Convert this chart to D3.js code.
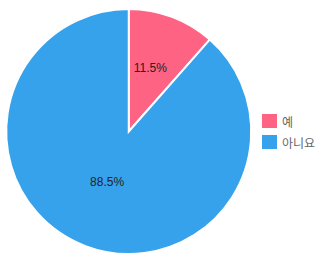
<!DOCTYPE html>
<html>
<head>
<meta charset="utf-8">
<script src="https://cdn.jsdelivr.net/npm/d3@7"></script>
<style>
  body { margin: 0; background: #fff; }
  svg { display: block; }
</style>
</head>
<body>
<div id="chart"></div>
<script>
var labels = ["예", "아니요"];
var values = [11.5, 88.5];
var colors = ["#ff6384", "#36a2eb"];

var width = 334, height = 261;
var cx = 128.75, cy = 131.5, radius = 122.5;

var svg = d3.select("#chart").append("svg")
    .attr("width", width)
    .attr("height", height);

var g = svg.append("g")
    .attr("transform", "translate(" + cx + "," + cy + ")");

var pie = d3.pie().sort(null).value(function(d) { return d; });
var arc = d3.arc().innerRadius(0).outerRadius(radius);
var labelArc = d3.arc().innerRadius(radius / 2).outerRadius(radius / 2);

var arcs = pie(values);

g.selectAll("path")
    .data(arcs)
    .enter()
    .append("path")
        .attr("d", arc)
        .attr("fill", function(d, i) { return colors[i]; })
        .attr("stroke", "#fff")
        .attr("stroke-width", 2);

// percent labels
g.selectAll(".pct")
    .data(arcs)
    .enter()
    .append("text")
        .attr("class", "pct")
        .attr("x", function(d) { return labelArc.centroid(d)[0]; })
        .attr("y", function(d) { return labelArc.centroid(d)[1] - 6.5; })
        .attr("text-anchor", "middle")
        .attr("dominant-baseline", "central")
        .style("font-family", "'Liberation Sans', Arial, sans-serif")
        .style("font-size", "12px")
        .style("fill", "#222")
        .text(function(d) { return d.data.toFixed(1) + "%"; });

// legend
var legend = svg.append("g")
    .attr("transform", "translate(262,114)");

var item = legend.selectAll(".item")
    .data(labels)
    .enter()
    .append("g")
        .attr("class", "item")
        .attr("transform", function(d, i) { return "translate(0," + (i * 21) + ")"; });

item.append("rect")
    .attr("width", 15)
    .attr("height", 14)
    .attr("fill", function(d, i) { return colors[i]; });

item.append("text")
    .attr("x", 20)
    .attr("y", 7)
    .attr("dominant-baseline", "central")
    .style("font-family", "'Noto Sans CJK KR', sans-serif")
    .style("font-size", "12px")
    .style("fill", "#666")
    .text(function(d) { return d; });
</script>
</body>
</html>
